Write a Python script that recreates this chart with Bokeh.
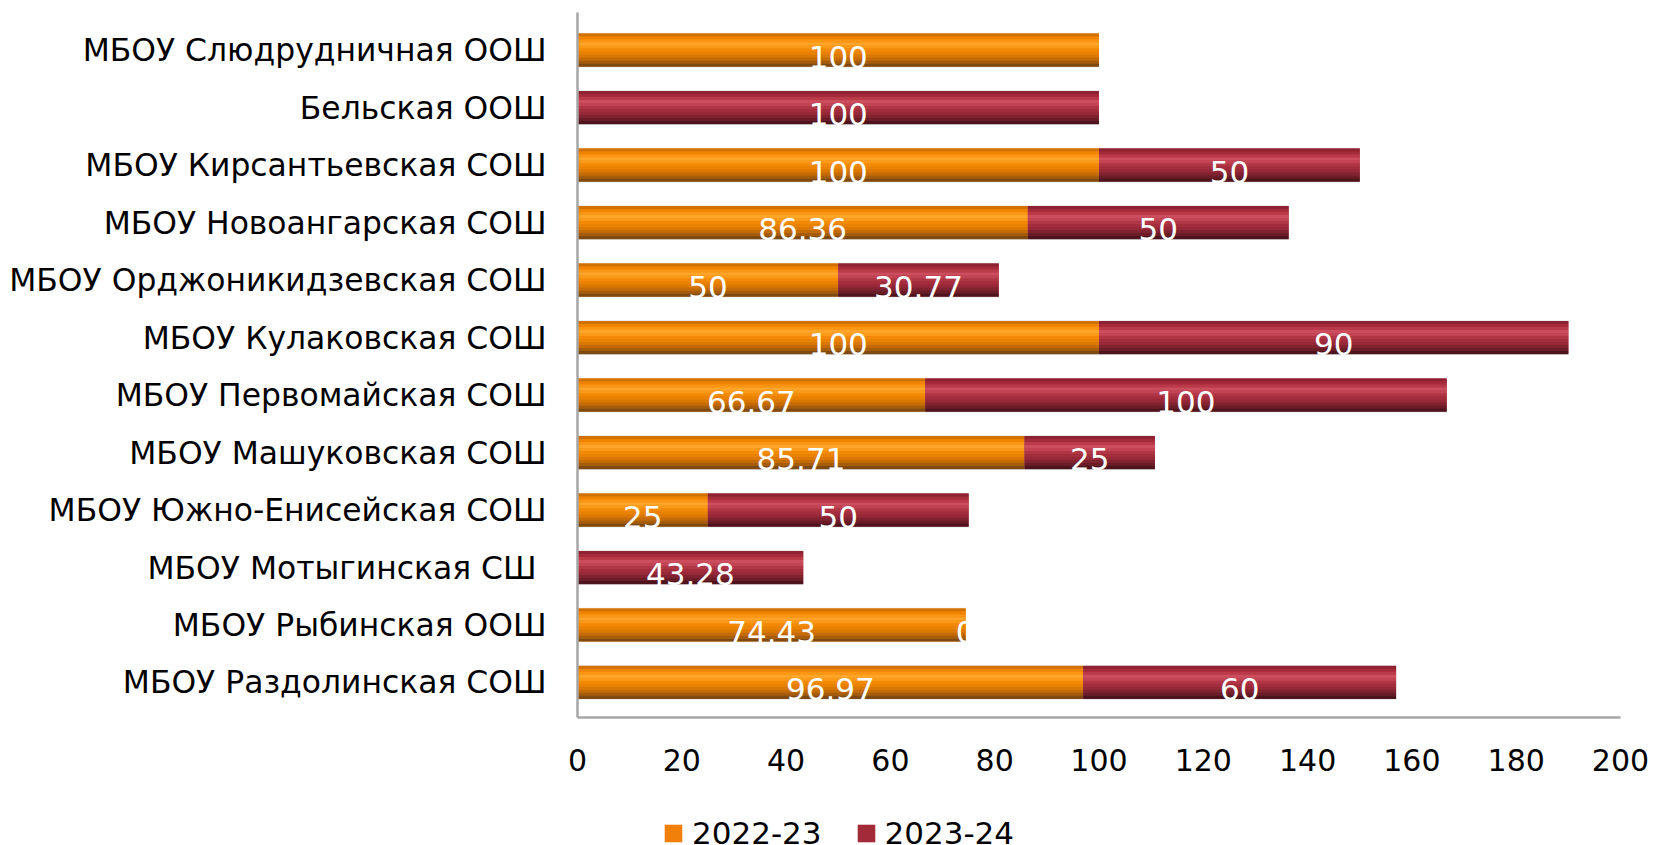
from bokeh.plotting import figure
from bokeh.layouts import column
from bokeh.models import Range1d, FixedTicker, Legend, LegendItem, ColumnDataSource
from bokeh.core.properties import value
from bokeh.embed import file_html
from bokeh.resources import INLINE

# ---- data (top to bottom as in the chart) ----
schools = [
    "МБОУ Слюдрудничная ООШ",
    "Бельская ООШ",
    "МБОУ Кирсантьевская СОШ",
    "МБОУ Новоангарская СОШ",
    "МБОУ Орджоникидзевская СОШ",
    "МБОУ Кулаковская СОШ",
    "МБОУ Первомайская СОШ",
    "МБОУ Машуковская СОШ",
    "МБОУ Южно-Енисейская СОШ",
    "МБОУ Мотыгинская СШ ",
    "МБОУ Рыбинская ООШ",
    "МБОУ Раздолинская СОШ",
]
values_2022_23 = [100, None, 100, 86.36, 50, 100, 66.67, 85.71, 25, None, 74.43, 96.97]
values_2023_24 = [None, 100, 50, 50, 30.77, 90, 100, 25, 50, 43.28, 0, 60]
series_names = ["2022-23", "2023-24"]
x_ticks = [0, 20, 40, 60, 80, 100, 120, 140, 160, 180, 200]

# ---- style ----
FONT = "DejaVu Sans"
BAR_H = 0.574
base_colors = ["#F0800A", "#A32A38"]
strip_colors = [
    ["#D27000", "#EE8400", "#FB9615", "#FFA52A", "#FB9A18", "#F28A06",
     "#E98200", "#DA7802", "#C46B06", "#A55D0C", "#7E4A12"],
    ["#8E2232", "#A52B3B", "#BA3A4A", "#CC4E5E", "#C24454", "#B03646",
     "#A42D3D", "#962838", "#80222F", "#6A1C27", "#4E141D"],
]

n = len(schools)
ypos = [n - 1 - i for i in range(n)]

p = figure(frame_width=1043, frame_height=705, output_backend="svg", toolbar_location=None,
           x_range=Range1d(0, 200), y_range=Range1d(-0.609, 11.654),
           min_border_left=577, min_border_right=36, min_border_top=12,
           min_border_bottom=68)
p.outline_line_color = None
p.xgrid.visible = False
p.ygrid.visible = False
p.background_fill_color = "white"
p.border_fill_color = "white"

# ---- legend strip below the chart (its frame is aligned with the chart's) ----
lg = figure(width=1656, height=60, output_backend="svg", toolbar_location=None,
            x_range=Range1d(0, 200), y_range=Range1d(100, 101),
            min_border=0, min_border_left=0, min_border_right=0,
            min_border_top=0, min_border_bottom=0)
lg.axis.visible = False
lg.xgrid.visible = False
lg.ygrid.visible = False
lg.outline_line_color = None

series = [values_2022_23, values_2023_24]
cum = [0.0] * n
label_x, label_y, label_t = [], [], []
legend_renderers = []
for s, vals in enumerate(series):
    ys, lefts, rights = [], [], []
    for i, v in enumerate(vals):
        if v is None:
            continue
        ys.append(ypos[i])
        lefts.append(cum[i])
        rights.append(cum[i] + v)
        label_x.append(cum[i] + v / 2)
        label_y.append(ypos[i] - 0.12)
        label_t.append(f"{v:g}")
    for i, v in enumerate(vals):
        if v is not None:
            cum[i] += v
    src = ColumnDataSource(dict(y=ys, left=lefts, right=rights))
    # soft shadow outline
    p.hbar(y="y", left="left", right="right", height=BAR_H + 0.03, source=src,
           fill_color="#D8D8D8", fill_alpha=0.6, line_color=None)
    p.hbar(y="y", left="left", right="right", height=BAR_H, source=src,
           fill_color=base_colors[s], line_color=None)
    cols = strip_colors[s]
    N = len(cols)
    sh = BAR_H / N
    for k, c in enumerate(cols):
        ssrc = ColumnDataSource(dict(y=[yy + BAR_H / 2 - (k + 0.5) * sh for yy in ys],
                                     left=lefts, right=rights))
        p.hbar(y="y", left="left", right="right", height=sh * 1.08, source=ssrc,
               fill_color=c, line_color=None)
    # same series in the legend strip (out of its visible range), used for the swatch
    r = lg.hbar(y="y", left="left", right="right", height=0, source=src,
                fill_color=base_colors[s], line_color=None)
    legend_renderers.append(r)

lab_src = ColumnDataSource(dict(x=label_x, y=label_y, t=label_t))
p.text(x="x", y="y", text="t", source=lab_src, text_color="white",
       text_font=value(FONT), text_font_size="31px", text_align="center",
       text_baseline="alphabetic")

# axes
p.xaxis.ticker = FixedTicker(ticks=x_ticks)
p.yaxis.ticker = FixedTicker(ticks=ypos)
p.yaxis.major_label_overrides = {ypos[i]: schools[i] for i in range(n)}
for ax in (p.xaxis, p.yaxis):
    ax.axis_line_color = "#A6A6A6"
    ax.axis_line_width = 2.5
    ax.major_tick_line_color = None
    ax.minor_tick_line_color = None
    ax.major_tick_out = 0
    ax.major_tick_in = 0
    ax.major_label_text_font = FONT
    ax.major_label_text_color = "black"
p.xaxis.major_label_text_font_size = "30px"
p.yaxis.major_label_text_font_size = "31.4px"
p.xaxis.major_label_standoff = 31
p.yaxis.major_label_standoff = 31

legend = Legend(items=[LegendItem(label=series_names[s], renderers=[legend_renderers[s]])
                       for s in range(2)],
                orientation="horizontal", location=(85, -6),
                glyph_width=22, glyph_height=22, label_standoff=8, spacing=33,
                padding=0, margin=0, border_line_alpha=0, background_fill_alpha=0,
                label_text_font=FONT, label_text_font_size="31px",
                label_text_color="black")
lg.add_layout(legend, "center")

layout = column(p, lg, spacing=0)
open("out.html", "w").write(file_html(layout, INLINE))
